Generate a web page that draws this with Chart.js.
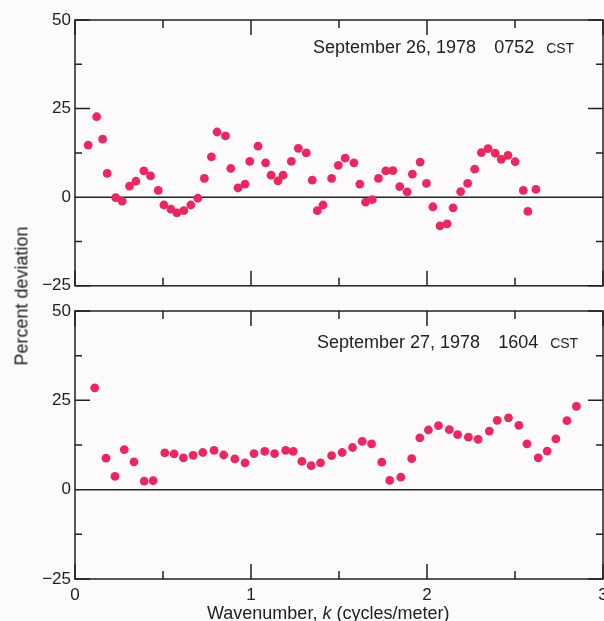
<!DOCTYPE html>
<html>
<head>
<meta charset="utf-8">
<script src="https://cdn.jsdelivr.net/npm/chart.js@4/dist/chart.umd.min.js"></script>
<style>
  html, body { margin: 0; padding: 0; width: 604px; height: 621px; overflow: hidden; background: #fcfafa; }
  body { position: relative; font-family: "Liberation Sans", Arial, sans-serif; color: #222; }
  canvas { position: absolute; left: 0; }
  #cTop { top: 0; }
  #cBot { top: 290px; }
  .note { position: absolute; font-size: 18px; white-space: nowrap; }
  .note small { font-size: 14px; margin-left: 12px; }
  .note b { font-weight: normal; margin-left: 18px; }
  #ytitle { position: absolute; left: 22px; top: 296px; font-size: 18px; white-space: nowrap;
            transform: translate(-50%, -50%) rotate(-90deg); }
  #xtitle { position: absolute; left: 207px; top: 603px; font-size: 18px; white-space: nowrap; }
</style>
</head>
<body>
<canvas id="cTop" width="620" height="300"></canvas>
<canvas id="cBot" width="620" height="331"></canvas>
<div class="note" style="left:313px; top:37px;">September 26, 1978<b>0752</b><small>CST</small></div>
<div class="note" style="left:317px; top:332px;">September 27, 1978<b>1604</b><small>CST</small></div>
<div id="ytitle">Percent deviation</div>
<div id="xtitle">Wavenumber, <i>k</i> (cycles/meter)</div>
<script>
// September 26, 1978 0752 CST
const kTop = [0.075, 0.123, 0.157, 0.183, 0.231, 0.268, 0.310, 0.346, 0.391, 0.429,
  0.473, 0.505, 0.545, 0.579, 0.618, 0.658, 0.698, 0.735, 0.775, 0.807,
  0.855, 0.885, 0.926, 0.966, 0.993, 1.040, 1.083, 1.114, 1.153, 1.182,
  1.229, 1.269, 1.314, 1.348, 1.377, 1.409, 1.458, 1.496, 1.535, 1.585,
  1.618, 1.651, 1.689, 1.724, 1.766, 1.806, 1.845, 1.887, 1.917, 1.961,
  1.997, 2.033, 2.074, 2.114, 2.148, 2.191, 2.231, 2.271, 2.309, 2.347,
  2.388, 2.422, 2.460, 2.501, 2.547, 2.573, 2.619];
const devTop = [14.7, 22.7, 16.4, 6.7, -0.1, -1.1, 3.1, 4.5, 7.4, 6.0,
  1.9, -2.2, -3.4, -4.4, -3.8, -2.2, -0.3, 5.3, 11.4, 18.4,
  17.3, 8.1, 2.6, 3.7, 10.1, 14.4, 9.7, 6.2, 4.6, 6.2,
  10.1, 13.8, 12.5, 4.8, -3.8, -2.2, 5.3, 9.0, 11.0, 9.7,
  3.7, -1.4, -0.7, 5.3, 7.4, 7.5, 3.0, 1.5, 6.5, 9.9,
  3.9, -2.7, -8.1, -7.5, -3.0, 1.6, 3.9, 7.9, 12.6, 13.7,
  12.4, 10.7, 11.8, 10.0, 1.9, -4.0, 2.2];

// September 27, 1978 1604 CST
const kBot = [0.112, 0.176, 0.227, 0.280, 0.335, 0.393, 0.444, 0.510, 0.563, 0.616,
  0.671, 0.726, 0.790, 0.845, 0.908, 0.966, 1.017, 1.078, 1.134, 1.197,
  1.240, 1.289, 1.342, 1.395, 1.458, 1.518, 1.577, 1.632, 1.685, 1.743,
  1.788, 1.851, 1.913, 1.959, 2.008, 2.065, 2.127, 2.174, 2.235, 2.290,
  2.354, 2.399, 2.463, 2.522, 2.568, 2.632, 2.683, 2.732, 2.795, 2.849];
const devBot = [28.5, 8.8, 3.7, 11.2, 7.8, 2.4, 2.5, 10.3, 10.0, 8.9,
  9.6, 10.4, 11.0, 9.7, 8.6, 7.5, 10.1, 10.7, 10.1, 11.0,
  10.7, 7.9, 6.7, 7.5, 9.5, 10.4, 11.8, 13.5, 12.8, 7.7,
  2.6, 3.5, 8.7, 14.5, 16.7, 17.9, 16.8, 15.4, 14.7, 14.1,
  16.4, 19.4, 20.1, 18.0, 12.8, 8.9, 10.8, 14.2, 19.3, 23.3];

const yMajor = [-25, 0, 25, 50];
const yMinor = [-12.5, 12.5, 37.5];
const xMajor = [0, 1, 2, 3];
const xMinor = [0.5, 1.5, 2.5];

const ink = '#222';
const dotColor = '#ea2860';

// frame, zero line and inward ticks on all four sides
const frameTicks = {
  id: 'frameTicks',
  beforeDatasetsDraw(chart) {
    const { ctx, chartArea: a, scales: { x, y } } = chart;
    ctx.save();
    ctx.strokeStyle = ink;
    ctx.lineWidth = 1.5;
    ctx.strokeRect(a.left, a.top, a.right - a.left, a.bottom - a.top);
    ctx.beginPath();
    const y0 = y.getPixelForValue(0);
    ctx.moveTo(a.left, y0); ctx.lineTo(a.right, y0);
    const yt = (v, len) => {
      const p = y.getPixelForValue(v);
      ctx.moveTo(a.left, p); ctx.lineTo(a.left + len, p);
      ctx.moveTo(a.right, p); ctx.lineTo(a.right - len, p);
    };
    const xt = (v, len) => {
      const p = x.getPixelForValue(v);
      ctx.moveTo(p, a.top); ctx.lineTo(p, a.top + len);
      ctx.moveTo(p, a.bottom); ctx.lineTo(p, a.bottom - len);
    };
    yMajor.forEach(v => yt(v, 15));
    yMinor.forEach(v => yt(v, 7));
    xMajor.forEach(v => xt(v, 15));
    xMinor.forEach(v => xt(v, 8));
    ctx.stroke();
    ctx.restore();
  }
};

function makeChart(id, ks, devs, showX, pad) {
  return new Chart(document.getElementById(id), {
    type: 'scatter',
    data: {
      datasets: [{
        data: ks.map((k, i) => ({ x: k, y: devs[i] })),
        backgroundColor: dotColor,
        borderWidth: 0,
        pointRadius: 4.4
      }]
    },
    options: {
      responsive: false,
      animation: false,
      events: [],
      layout: { padding: pad },
      plugins: { legend: { display: false }, tooltip: { enabled: false } },
      scales: {
        x: {
          type: 'linear', min: 0, max: 3,
          display: showX,
          grid: { display: false, drawTicks: false },
          border: { display: false },
          afterBuildTicks: s => { s.ticks = xMajor.map(v => ({ value: v })); },
          afterFit: s => { s.height = showX ? 42 : 0; },
          ticks: { color: ink, padding: 6, maxRotation: 0, autoSkip: false,
                   font: { family: '"Liberation Sans", Arial, sans-serif', size: 17 } }
        },
        y: {
          min: -25, max: 50,
          grid: { display: false, drawTicks: false },
          border: { display: false },
          afterBuildTicks: s => { s.ticks = yMajor.map(v => ({ value: v })); },
          afterFit: s => { s.width = 75; },
          ticks: { color: ink, padding: 4,
                   callback: v => String(v).replace('-', '\u2212'),
                   font: { family: '"Liberation Sans", Arial, sans-serif', size: 17 } }
        }
      }
    },
    plugins: [frameTicks]
  });
}

makeChart('cTop', kTop, devTop, false, { top: 20, right: 17, bottom: 12, left: 0 });
makeChart('cBot', kBot, devBot, true, { top: 21, right: 17, bottom: 0, left: 0 });
</script>
</body>
</html>
